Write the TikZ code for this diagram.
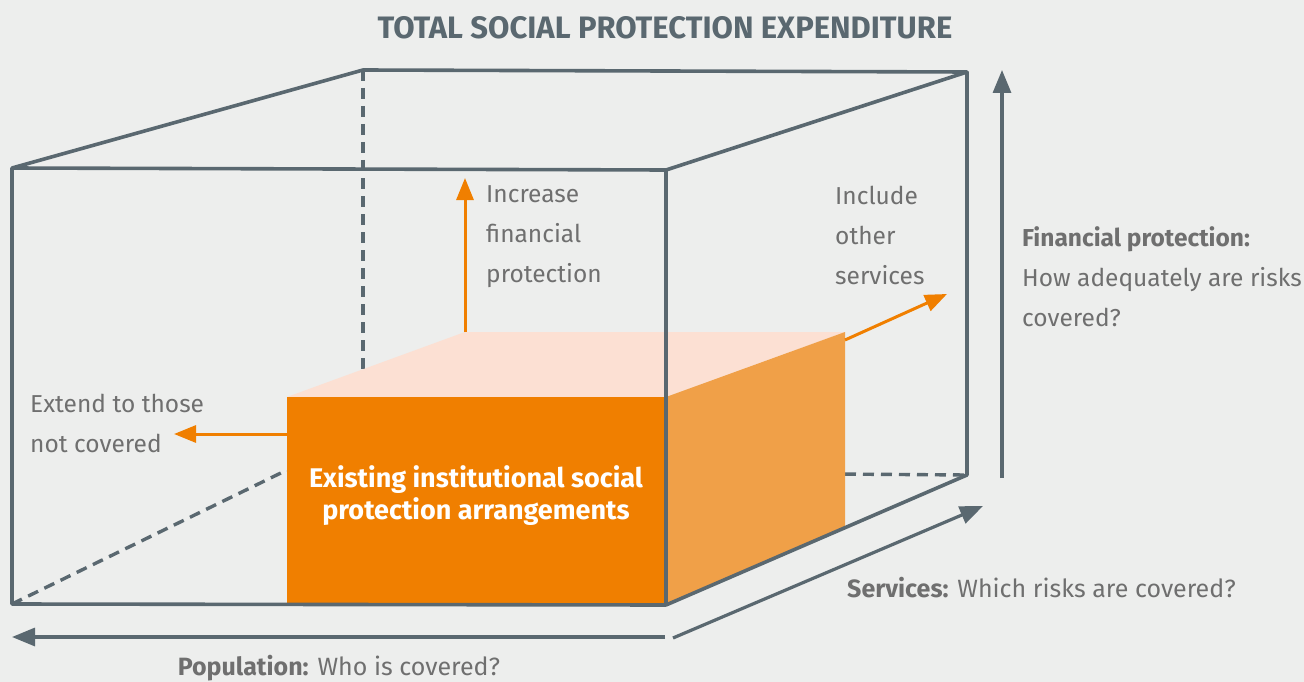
\documentclass[tikz,border=0pt]{standalone}
\usepackage{fontspec}
\setmainfont{Fira Sans}
\usetikzlibrary{arrows.meta, calc, positioning}
\definecolor{bg}{HTML}{EDEEED}
\definecolor{slate}{HTML}{5A6870}
\definecolor{txt}{HTML}{6F6F6F}
\definecolor{orng}{HTML}{F07F00}
\definecolor{orngside}{HTML}{F0A048}
\definecolor{orngtop}{HTML}{FCE0D3}

\begin{document}
\begin{tikzpicture}[x=1pt,y=-1pt,line join=round,
  edge/.style={slate, line width=3.6pt},
  hidden/.style={slate, line width=3.4pt, dash pattern=on 11pt off 7pt},
  axis/.style={slate, line width=3.2pt, -{Triangle[length=23pt,width=18pt]}},
  extendarrow/.style={orng, line width=3pt, -{Triangle[length=22pt,width=17pt]}},
  lbl/.style={txt, font=\fontsize{24.5}{40}\selectfont, align=left, anchor=north west, inner sep=0pt}]
\useasboundingbox (0,0) rectangle (1304,682);
\fill[bg] (0,0) rectangle (1304,682);

% outer box
\coordinate (ftl) at (12,168);  \coordinate (ftr) at (666,170);
\coordinate (fbl) at (12,604);  \coordinate (fbr) at (666,605);
\coordinate (btl) at (363,70);  \coordinate (btr) at (967,72);
\coordinate (bbr) at (967,475); \coordinate (bbl) at (363,472);
\coordinate (dd) at (287,470);

% existing arrangements
\coordinate (otl) at (287,397); \coordinate (otr) at (666,397);
\coordinate (obl) at (287,605); \coordinate (obr) at (666,605);
\coordinate (ktl) at (465,332); \coordinate (ktr) at (845,332);
\coordinate (kbr) at (845,528);

\draw[hidden] (btl) -- (bbl);
\draw[hidden] (fbl) -- (dd);
\draw[hidden] (dd) -- (bbr);

\fill[orngtop] (otl) -- (ktl) -- (ktr) -- (otr) -- cycle;
\fill[orngside] (otr) -- (ktr) -- (kbr) -- (obr) -- cycle;
\fill[orng] (otl) rectangle (obr);

\draw[edge] (ftl) -- (ftr) -- (fbr) -- (fbl) -- cycle;
\draw[edge] (ftl) -- (btl) -- (btr) -- (ftr);
\draw[edge] (btr) -- (bbr) -- (fbr);

% growth arrows
\coordinate (up) at (465,178);
\coordinate (rs) at (845,340); \coordinate (re) at (947,294);
\coordinate (ls) at (287,434); \coordinate (le) at (174,434);
\draw[extendarrow] (ktl) -- (up);
\draw[extendarrow] (rs) -- (re);
\draw[extendarrow] (ls) -- (le);

% axes
\coordinate (fa) at (1002,478); \coordinate (fb) at (1002,70);
\coordinate (sa) at (673,638);  \coordinate (sb) at (983,506);
\coordinate (pa) at (665,637);  \coordinate (pb) at (12,637);
\draw[axis] (fa) -- (fb);
\draw[axis] (sa) -- (sb);
\draw[axis] (pa) -- (pb);

% texts
\node[anchor=base, inner sep=0pt, text=slate, font=\fontsize{31}{33}\selectfont\bfseries] (title) at (665,39) {TOTAL SOCIAL PROTECTION EXPENDITURE};
\node[lbl] (inc) at (486,185) {Increase\\financial\\protection};
\node[lbl] (oth) at (835,186) {Include\\other\\services};
\node[lbl] (ext) at (30,394) {Extend to those\\not covered};
\node[lbl] (fin) at (1022,226) {\textbf{Financial protection:}\\How adequately are risks\\covered?};
\node[anchor=base west, inner sep=0pt, txt, font=\fontsize{25}{30}\selectfont] (srv) at (847,597) {\textbf{Services:} Which risks are covered?};
\node[anchor=base, inner sep=0pt, txt, font=\fontsize{25}{30}\selectfont] (pop) at (339,675) {\textbf{Population:} Who is covered?};
\node[anchor=north, inner sep=0pt, white, align=center, font=\fontsize{27}{32}\selectfont\bfseries] (exist) at (476,465) {Existing institutional social\\protection arrangements};
\end{tikzpicture}
\end{document}
